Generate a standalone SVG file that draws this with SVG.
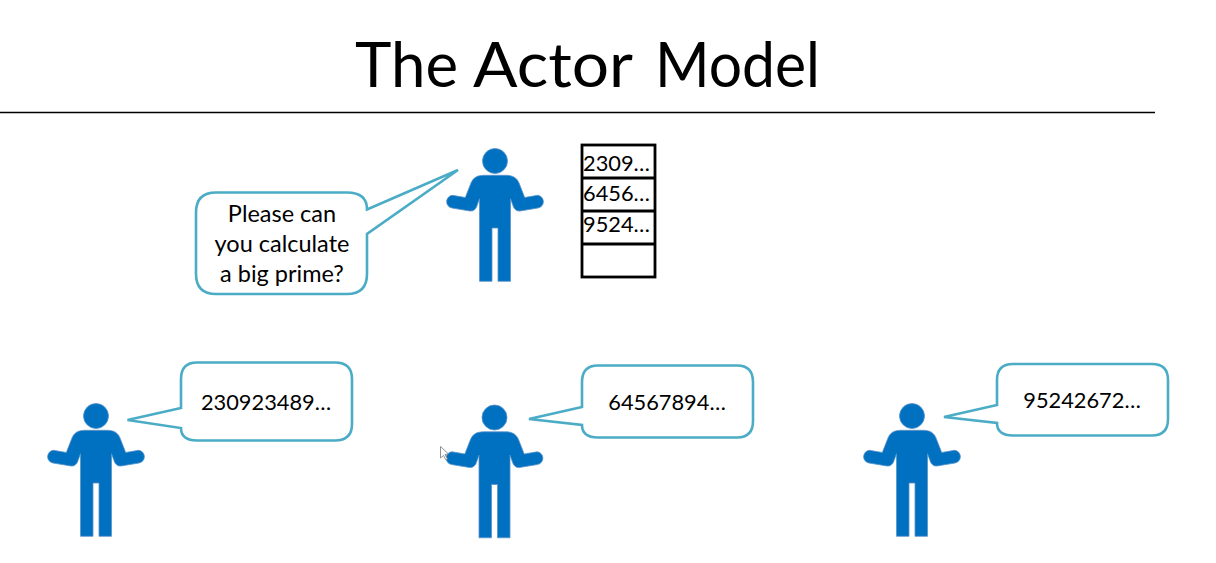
<svg xmlns="http://www.w3.org/2000/svg" xmlns:xlink="http://www.w3.org/1999/xlink" width="1216" height="563" viewBox="0 0 1216 563">
<style>
.t{font-family:"Lato","Open Sans","Liberation Sans",sans-serif;font-size:23.5px;fill:#000}
.n{font-size:21.8px}
.m{text-anchor:middle}
.title{font-family:"Lato","Liberation Sans",sans-serif;font-size:62px;fill:#000}
.b{fill:#fff;stroke:#4bacc6;stroke-width:2.6;stroke-linejoin:miter}
.c{fill:none;stroke:#000;stroke-width:2.8}
.p{fill:#0070c0;stroke:#5b93c9;stroke-width:.8}
</style>
<defs>
<g id="person">
<circle class="p" cx="0" cy="0" r="12.500"/>
<path class="p" d="M-11 14.300H11C18 14.300 22 17 24 22L29.700 36.500L42.500 34.300A6.400 6.400 0 0 1 43 47L25 50C21.500 50.500 19.500 48 18.500 46L15.500 37.700V120.300H3V67H-3V120.300H-15.500V37.700L-18.500 46C-19.500 48 -21.500 50.500 -25 50L-43 47A6.400 6.400 0 0 1 -42.500 34.300L-29.700 36.500L-24 22C-22 17 -18 14.300 -11 14.300Z"/>
</g>
</defs>
<rect width="1216" height="563" fill="#fff"/>
<g id="title"><text class="title" y="87"><tspan x="355" textLength="103" lengthAdjust="spacingAndGlyphs">The</tspan><tspan x="473" textLength="160" lengthAdjust="spacingAndGlyphs">Actor</tspan><tspan x="655" textLength="165" lengthAdjust="spacingAndGlyphs">Model</tspan></text></g>
<line x1="0" y1="112.500" x2="1155" y2="112.500" stroke="#000" stroke-width="1.500"/>
<g id="actor-main"><use xlink:href="#person" href="#person" x="495" y="161"/></g>
<g id="bubble-request">
<path class="b" d="M216 192.500H347Q367 192.500 367 209.500L458 170L367 234V274Q367 294 347 294H216Q196 294 196 274V212.500Q196 192.500 216 192.500Z"/>
<text class="t m" x="282" y="222">Please can</text>
<text class="t m" x="282" y="252">you calculate</text>
<text class="t m" x="282" y="282">a big prime?</text>
</g>
<g id="mailbox">
<rect class="c" x="582" y="145" width="73" height="132"/>
<line class="c" x1="582" y1="178" x2="655" y2="178"/>
<line class="c" x1="582" y1="211" x2="655" y2="211"/>
<line class="c" x1="582" y1="244" x2="655" y2="244"/>
<text class="t n" x="583" y="171">2309…</text>
<text class="t n" x="583" y="201">6456…</text>
<text class="t n" x="583" y="232">9524…</text>
</g>
<g id="actor-1"><use xlink:href="#person" href="#person" x="96" y="416"/></g>
<g id="bubble-1">
<path class="b" d="M197 362.500H335Q352 362.500 352 379V424Q352 440.500 335 440.500H197Q181 440.500 181 428L127.500 420L181 408V379Q181 362.500 197 362.500Z"/>
<text class="t n m" x="266" y="410">230923489…</text>
</g>
<g id="actor-2"><use xlink:href="#person" href="#person" x="494.500" y="417.500"/></g>
<g id="bubble-2">
<path class="b" d="M598 365.500H737Q753 365.500 753 382V421Q753 437.500 737 437.500H598Q582 437.500 582 425L529 419L582 407V382Q582 365.500 598 365.500Z"/>
<text class="t n m" x="667" y="410">64567894…</text>
</g>
<g id="actor-3"><use xlink:href="#person" href="#person" x="912" y="416"/></g>
<g id="bubble-3">
<path class="b" d="M1013 364H1152Q1168 364 1168 380V419Q1168 435.500 1152 435.500H1013Q997 435.500 997 423L944 417L997 405V380Q997 364 1013 364Z"/>
<text class="t n m" x="1082" y="408">95242672…</text>
</g>
<path id="cursor" d="M440.500 446.500V458L443.500 455.500L446 460L447.500 459L445 454.500L448.500 454Z" fill="#fff" stroke="#777" stroke-width=".8"/>
</svg>
